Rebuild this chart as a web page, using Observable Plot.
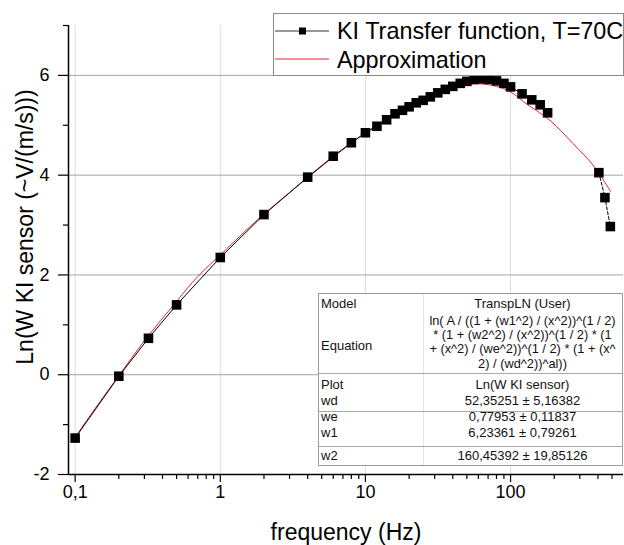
<!DOCTYPE html>
<html><head><meta charset="utf-8">
<script src="https://cdn.jsdelivr.net/npm/d3@7"></script>
<script src="https://cdn.jsdelivr.net/npm/@observablehq/plot@0.6"></script>
<style>
body{margin:0;background:#fff;font-family:"Liberation Sans",Arial,sans-serif;}
#wrap{position:relative;width:624px;height:545px;overflow:hidden;background:#fff}
.abs{position:absolute;white-space:nowrap}
.legend{position:absolute;left:273px;top:13px;width:351px;height:63px;box-sizing:border-box;border:1px solid #8a8a8a;background:#fff}
.tbl{position:absolute;left:318px;top:293px;width:305px;height:173px;box-sizing:border-box;border:1px solid #9a9a9a;background:#fff}
.tt{position:absolute;white-space:nowrap;font-size:13px;line-height:16px;height:16px;color:#111}
</style></head><body><div id="wrap"></div>
<script>
// ---- data ----
const freq = [0.1, 0.2, 0.32, 0.5, 1, 2, 4, 6, 8, 10, 12, 14, 16, 18, 20, 22.4, 25, 28, 31.5, 35.5, 40, 45, 50, 56, 63, 71, 80, 90, 100, 120, 140, 160, 180, 406, 447, 487];
const lnW  = [-1.27, -0.03, 0.73, 1.40, 2.35, 3.21, 3.96, 4.38, 4.65, 4.85, 4.98, 5.11, 5.23, 5.30, 5.37, 5.45, 5.50, 5.57, 5.65, 5.72, 5.78, 5.84, 5.88, 5.92, 5.93, 5.92, 5.89, 5.84, 5.77, 5.63, 5.51, 5.41, 5.25, 4.05, 3.55, 2.97];
const fitFreq = [0.1, 0.15, 0.2, 0.3, 0.5, 0.7, 1, 1.5, 2, 3, 4, 6, 10, 15, 20, 30, 40, 50, 62, 80, 100, 130, 150, 190, 270, 375, 490];
const fitLnW  = [-1.25, -0.52, -0.02, 0.68, 1.47, 1.97, 2.40, 2.89, 3.22, 3.65, 3.95, 4.36, 4.85, 5.18, 5.38, 5.62, 5.75, 5.81, 5.83, 5.78, 5.67, 5.42, 5.30, 5.08, 4.63, 4.18, 3.67];
const xDomain = [0.09, 600];
const yDomain = [-2, 7];
const xTickValues = [0.1, 1, 10, 100];
const xTickLabels = ["0,1", "1", "10", "100"];
const xMinorTicks = [0.2, 0.3, 0.4, 0.5, 0.6, 0.7, 0.8, 0.9, 2, 3, 4, 5, 6, 7, 8, 9, 20, 30, 40, 50, 60, 70, 80, 90, 200, 300, 400, 500];
const yTickValues = [-2, 0, 2, 4, 6];
const yTickLabels = ["-2", "0", "2", "4", "6"];
const yMinorTicks = [-1, 1, 3, 5, 7];
const xTitle = "frequency (Hz)";
const yTitle = "Ln(W KI sensor (~V/(m/s)))";
const legendLabels = ["KI Transfer function, T=70C", "Approximation"];
const tableLabels = ["Model", "Equation", "Plot", "wd", "we", "w1", "w2"];
const tableValues = ["TranspLN (User)", "", "Ln(W KI sensor)", "52,35251 ± 5,16382", "0,77953 ± 0,11837", "6,23361 ± 0,79261", "160,45392 ± 19,85126"];
const equationLines = ["ln( A / ((1 + (w1^2) / (x^2))^(1 / 2)", "* (1 + (w2^2) / (x^2))^(1 / 2) * (1", "+ (x^2) / (we^2))^(1 / 2) * (1 + (x^", "2) / (wd^2))^al))"];

// ---- tables for marks ----
const measured = freq.map((f, i) => ({f, v: lnW[i]}));
const fit = fitFreq.map((f, i) => ({f, v: fitLnW[i]}));
const gapAt = 300; // black line is broken between the 180 Hz and 406 Hz points
const lowPart = measured.filter(d => d.f < gapAt);
const highPart = measured.filter(d => d.f >= gapAt);
const RED = "#e0282e";

const chart = Plot.plot({
  width: 624, height: 545,
  marginLeft: 68, marginRight: 1, marginTop: 25, marginBottom: 71,
  x: {type: "log", domain: xDomain},
  y: {domain: yDomain},
  style: {fontFamily: '"Liberation Sans", Arial, sans-serif', color: "#000", background: "#fff", overflow: "visible"},
  marks: [
    Plot.gridX(xTickValues, {stroke: "#dcdcdc", strokeOpacity: 1}),
    Plot.gridY(yTickValues.filter(d => d > yDomain[0]), {stroke: "#a4a4a4", strokeOpacity: 1}),
    Plot.line(fit, {x: "f", y: "v", stroke: RED, strokeWidth: 1, curve: "catmull-rom"}),
    Plot.line(lowPart, {x: "f", y: "v", stroke: "#000", strokeWidth: 1}),
    Plot.line(highPart, {x: "f", y: "v", stroke: "#000", strokeWidth: 1, strokeDasharray: "3,2"}),
    Plot.dot(measured, {x: "f", y: "v", symbol: "square", fill: "#000", r: 5.4}),
    Plot.axisX(xTickValues, {anchor: "bottom", tickSize: 8, tickPadding: 3, strokeWidth: 1.2, fontSize: 18,
      tickFormat: d => xTickLabels[xTickValues.indexOf(d)], label: null}),
    Plot.axisX(xMinorTicks, {anchor: "bottom", tickSize: 5, strokeWidth: 1.2, tickFormat: () => "", label: null}),
    Plot.axisY(yTickValues, {anchor: "left", tickSize: 10, tickPadding: 9, strokeWidth: 1.2, fontSize: 18,
      tickFormat: d => yTickLabels[yTickValues.indexOf(d)], label: null}),
    Plot.axisY(yMinorTicks, {anchor: "left", tickSize: 5, strokeWidth: 1.2, tickFormat: () => "", label: null}),
    Plot.ruleX([xDomain[0]], {stroke: "#000", strokeWidth: 1.5}),
    Plot.ruleY([yDomain[0]], {stroke: "#000", strokeWidth: 1.5}),
    Plot.text([xTitle], {text: d => d, frameAnchor: "bottom", lineAnchor: "middle", textAnchor: "middle", dy: 58, fontSize: 23, fill: "#000"}),
    Plot.text([yTitle], {text: d => d, frameAnchor: "left", lineAnchor: "middle", textAnchor: "middle", dx: -43, dy: -23, rotate: -90, fontSize: 23, fill: "#000"})
  ]
});
const wrap = document.getElementById("wrap");
chart.style.position = "absolute"; chart.style.left = "0"; chart.style.top = "0";
wrap.appendChild(chart);

// ---- legend ----
const legend = document.createElement("div");
legend.className = "legend";
legend.innerHTML = `
<svg class="abs" style="left:1px;top:0" width="60" height="60">
  <line x1="0" x2="54" y1="17" y2="17" stroke="#333" stroke-width="1"/>
  <rect x="24" y="13.5" width="7" height="7" fill="#000"/>
  <line x1="0" x2="54" y1="45" y2="45" stroke="${RED}" stroke-width="1"/>
</svg>
<div class="abs" style="left:63px;top:3px;font-size:23.4px;line-height:28px">${legendLabels[0]}</div>
<div class="abs" style="left:63px;top:32px;font-size:23.4px;line-height:28px">${legendLabels[1]}</div>`;
wrap.appendChild(legend);

// ---- fit table ----
const tbl = document.createElement("div");
tbl.className = "tbl";
const T0 = 294; // inner top (page y)
const L0 = 319;
const labelBaselines = [308.6, 350.6, 389.3, 405, 421, 437, 460];
const eqBaselines = [325.5, 339.5, 353.5, 368];
let html = "";
html += `<div class="abs" style="left:${423-L0}px;top:0;width:1px;height:171px;background:#e4e4e4"></div>`;
[373, 411, 446].forEach(y => { html += `<div class="abs" style="left:0;top:${y-T0}px;width:303px;height:1px;background:#a8a8a8"></div>`; });
tableLabels.forEach((lab, i) => {
  html += `<div class="tt" style="left:2px;top:${labelBaselines[i]-12.5-T0}px">${lab}</div>`;
  if (tableValues[i]) html += `<div class="tt" style="left:${423-L0}px;width:199px;text-align:center;top:${labelBaselines[i]-12.5-T0}px">${tableValues[i]}</div>`;
});
equationLines.forEach((ln, i) => {
  html += `<div class="tt" style="left:${423-L0}px;width:199px;text-align:center;font-size:12.8px;top:${eqBaselines[i]-12.5-T0}px">${ln}</div>`;
});
tbl.innerHTML = html;
wrap.appendChild(tbl);
</script></body></html>
